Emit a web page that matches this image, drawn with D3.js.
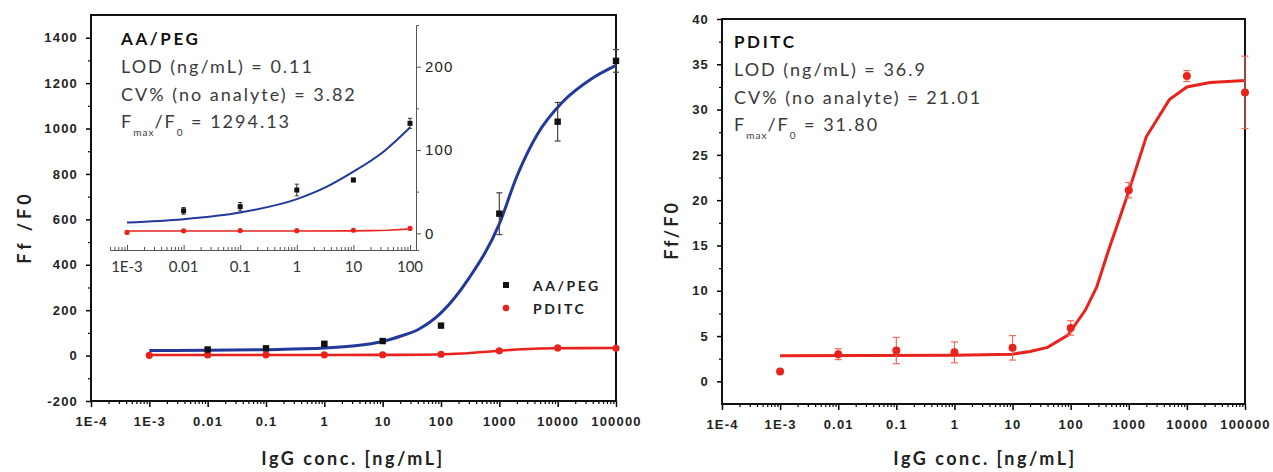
<!DOCTYPE html>
<html>
<head>
<meta charset="utf-8">
<script src="https://cdn.jsdelivr.net/npm/d3@7"></script>
<style>
  body { margin: 0; background: #fff; }
  svg { display: block; font-family: Lato, "Open Sans", sans-serif; }
  .tick text { font-weight: bold; fill: #222; letter-spacing: 1.2px; }
</style>
</head>
<body>
<svg id="chart" width="1273" height="472"></svg>
<script>
// concentrations (ng/mL)
const concAll = [1e-3, 1e-2, 1e-1, 1, 10, 100, 1000, 10000, 100000];
const concAA = [1e-2, 1e-1, 1, 10, 100, 1000, 10000, 100000];

// AA/PEG measured Ff/F0 and error
const aaValues = [27, 32, 52, 64, 132, 625, 1030, 1298];
const aaErrors = [4, 5, 7, 2, 6, 92, 85, 50];

// PDITC measured Ff/F0 and error
const pdValues = [1.1, 3.0, 3.4, 3.2, 3.7, 5.9, 21.1, 33.7, 31.9];
const pdErrors = [0, 0.6, 1.45, 1.15, 1.35, 0.8, 0.85, 0.6, 4.0];

// fitted curves
const aaFitX = [0.001, 0.01, 0.1, 1, 3, 10, 20, 40, 100, 300, 1000, 2000, 4500, 12500, 36000, 100000];
const aaFitY = [22, 23, 26, 33, 42, 62, 85, 114, 188, 340, 580, 790, 975, 1120, 1215, 1278];
const aaInsetFitX = [0.001, 0.01, 0.1, 1, 3.4, 10, 34, 100];
const aaInsetFitY = [13, 17, 25, 41, 56, 74, 98, 127];
const pdFitX = [0.001, 1, 10, 20, 40, 90, 180, 280, 450, 630, 1000, 2000, 5000, 10000, 25000, 100000];
const pdFitY = [2.84, 2.88, 3.0, 3.3, 3.75, 5.1, 7.9, 10.4, 14.5, 17.2, 21.0, 27.0, 31.1, 32.5, 33.0, 33.2];

// tick labels
const decades = [1e-4, 1e-3, 1e-2, 1e-1, 1, 10, 100, 1000, 10000, 100000];
const decadeLabels = ["1E-4", "1E-3", "0.01", "0.1", "1", "10", "100", "1000", "10000", "100000"];
const insetDecades = [1e-3, 1e-2, 1e-1, 1, 10, 100];
const insetLabels = ["1E-3", "0.01", "0.1", "1", "10", "100"];
const leftYTicks = [-200, 0, 200, 400, 600, 800, 1000, 1200, 1400];
const rightYTicks = [0, 5, 10, 15, 20, 25, 30, 35, 40];
const insetYTicks = [0, 100, 200];

const BLUE = "#22399a";
const RED = "#e8231d";

const svg = d3.select("#chart");

function minorsBetween(lo, hi) {
  const out = [];
  for (let e = -5; e <= 5; e++) {
    for (let m = 2; m <= 9; m++) {
      const v = m * Math.pow(10, e);
      if (v > lo * 1.0001 && v < hi * 0.9999) out.push(v);
    }
  }
  return out;
}

function decadeLabel(list, labels) {
  return d => labels[list.findIndex(v => Math.abs(Math.log10(v) - Math.log10(d)) < 1e-6)];
}

function frameAxes(g, x, y, yMajor, yMinor) {
  const [x0, x1] = x.range();
  const [y0, y1] = y.range();

  g.append("g")
    .attr("transform", `translate(0,${y0})`)
    .call(d3.axisBottom(x).tickValues(minorsBetween(x.domain()[0], x.domain()[1])).tickSize(3).tickFormat(""))
    .call(s => s.select(".domain").remove())
    .selectAll("line").attr("stroke-width", 1.2);

  g.append("g")
    .attr("transform", `translate(0,${y0})`)
    .call(d3.axisBottom(x).tickValues(decades).tickSize(6).tickPadding(10)
      .tickFormat(decadeLabel(decades, decadeLabels)))
    .call(s => s.select(".domain").remove())
    .call(s => s.selectAll("line").attr("stroke-width", 1.5))
    .selectAll("text").style("font-size", "13px");

  g.append("g")
    .attr("transform", `translate(${x0},0)`)
    .call(d3.axisLeft(y).tickValues(yMinor).tickSize(3).tickFormat(""))
    .call(s => s.select(".domain").remove())
    .selectAll("line").attr("stroke-width", 1.2);

  g.append("g")
    .attr("transform", `translate(${x0},0)`)
    .call(d3.axisLeft(y).tickValues(yMajor).tickSize(5).tickPadding(8).tickFormat(d => String(d)))
    .call(s => s.select(".domain").remove())
    .call(s => s.selectAll("line").attr("stroke-width", 1.5))
    .selectAll("text").style("font-size", "13px");

  g.append("rect")
    .attr("x", x0).attr("y", y1)
    .attr("width", x1 - x0).attr("height", y0 - y1)
    .attr("fill", "none").attr("stroke", "#111").attr("stroke-width", 2);
}

function errorBars(g, xs, ys, errs, x, y, color, cap, width) {
  xs.forEach((c, i) => {
    if (!errs[i]) return;
    const cx = x(c), top = y(ys[i] + errs[i]), bot = y(ys[i] - errs[i]);
    g.append("line").attr("x1", cx).attr("x2", cx).attr("y1", top).attr("y2", bot)
      .attr("stroke", color).attr("stroke-width", width);
    [top, bot].forEach(yy => g.append("line")
      .attr("x1", cx - cap).attr("x2", cx + cap).attr("y1", yy).attr("y2", yy)
      .attr("stroke", color).attr("stroke-width", width));
  });
}

function note(g, x, y, title, lod, cv, ratio) {
  const t = g.append("g").attr("fill", "#3a3a3a").style("font-size", "18px").style("letter-spacing", "2px");
  t.append("text").attr("x", x).attr("y", y).attr("font-weight", "bold").attr("fill", "#111")
    .style("font-size", "17px").style("letter-spacing", "2.6px").text(title);
  t.append("text").attr("x", x).attr("y", y + 28).text(`LOD (ng/mL) = ${lod}`);
  t.append("text").attr("x", x).attr("y", y + 56).text(`CV% (no analyte) = ${cv}`);
  const f = t.append("text").attr("x", x).attr("y", y + 83);
  f.append("tspan").text("F");
  f.append("tspan").attr("dy", 8).style("font-size", "10px").style("letter-spacing", "1px").text("max");
  f.append("tspan").attr("dy", -8).text("/F");
  f.append("tspan").attr("dy", 8).style("font-size", "10px").text("0");
  f.append("tspan").attr("dy", -8).text(` = ${ratio}`);
}

// ---------- left panel ----------
const xL = d3.scaleLog().domain([1e-4, 1e5]).range([91, 616]);
const yL = d3.scaleLinear().domain([-200, 1500]).range([401, 15]);
const gL = svg.append("g");
frameAxes(gL, xL, yL, leftYTicks, d3.range(-100, 1500, 200));

const line = (x, y) => d3.line().x(d => x(d[0])).y(d => y(d[1]));

// inset
const xI0 = d3.scaleLog().domain([1e-3, 100]).range([127, 410]);
const xI = d3.scaleLog().domain([xI0.invert(110), xI0.invert(416)]).range([110, 416]);
const yI = d3.scaleLinear().domain([-20, 250]).range([250, 25]);
const gI = gL.append("g");

gI.append("g").attr("transform", "translate(0,250)")
  .call(d3.axisTop(xI).tickValues(minorsBetween(xI.domain()[0], xI.domain()[1])).tickSize(3).tickFormat(""))
  .call(s => s.select(".domain").attr("stroke", "#555"))
  .selectAll("line").attr("stroke", "#555");
gI.append("g").attr("transform", "translate(0,250)")
  .call(d3.axisTop(xI).tickValues(insetDecades).tickSize(5).tickFormat(""))
  .call(s => s.select(".domain").remove())
  .selectAll("line").attr("stroke", "#555");
gI.selectAll("text.ixl").data(insetDecades).join("text")
  .attr("x", d => xI(d)).attr("y", 272).attr("text-anchor", "middle")
  .attr("fill", "#333").style("font-size", "15px")
  .text(decadeLabel(insetDecades, insetLabels));

gI.append("g").attr("transform", "translate(416,0)")
  .call(d3.axisRight(yI).tickValues([50, 150]).tickSize(3).tickFormat(""))
  .call(s => s.select(".domain").attr("stroke", "#555"))
  .selectAll("line").attr("stroke", "#555");
gI.append("g").attr("transform", "translate(416,0)")
  .call(d3.axisRight(yI).tickValues(insetYTicks).tickSize(5).tickPadding(4))
  .call(s => s.select(".domain").remove())
  .call(s => s.selectAll("line").attr("stroke", "#555"))
  .selectAll("text").style("font-size", "15px").style("font-weight", "normal").attr("fill", "#333");

gI.append("path")
  .datum(d3.zip(aaInsetFitX, aaInsetFitY))
  .attr("d", line(xI, yI).curve(d3.curveMonotoneX))
  .attr("fill", "none").attr("stroke", BLUE).attr("stroke-width", 2);
const pdInset = d3.zip(pdFitX, pdFitY).filter(d => d[0] <= 100);
gI.append("path")
  .datum(pdInset)
  .attr("d", line(xI, yI))
  .attr("fill", "none").attr("stroke", RED).attr("stroke-width", 1.6);
const aaIn = concAA.map((c, i) => [c, aaValues[i], aaErrors[i]]).filter(d => d[0] <= 100);
errorBars(gI, aaIn.map(d => d[0]), aaIn.map(d => d[1]), aaIn.map(d => d[2]), xI, yI, "#333", 2, 1);
gI.selectAll("rect.sq").data(aaIn).join("rect")
  .attr("x", d => xI(d[0]) - 2.5).attr("y", d => yI(d[1]) - 2.5)
  .attr("width", 5).attr("height", 5).attr("fill", "#111");
const pdIn = concAll.map((c, i) => [c, pdValues[i]]).filter(d => d[0] <= 100);
gI.selectAll("circle.dot").data(pdIn).join("circle")
  .attr("cx", d => xI(d[0])).attr("cy", d => yI(d[1])).attr("r", 2.6).attr("fill", RED);

note(gL, 121, 45, "AA/PEG", "0.11", "3.82", "1294.13");

// main curves
gL.append("path")
  .datum(d3.zip(pdFitX, pdFitY))
  .attr("d", line(xL, yL))
  .attr("fill", "none").attr("stroke", RED).attr("stroke-width", 2.6);
gL.selectAll("circle.pd").data(concAll).join("circle")
  .attr("cx", d => xL(d)).attr("cy", (d, i) => yL(pdValues[i])).attr("r", 3.6).attr("fill", RED);

gL.append("path")
  .datum(d3.zip(aaFitX, aaFitY))
  .attr("d", line(xL, yL).curve(d3.curveMonotoneX))
  .attr("fill", "none").attr("stroke", BLUE).attr("stroke-width", 3);
errorBars(gL, concAA, aaValues, aaErrors, xL, yL, "#444", 3, 1.2);
gL.selectAll("rect.aa").data(concAA).join("rect")
  .attr("x", d => xL(d) - 3.2).attr("y", (d, i) => yL(aaValues[i]) - 3.2)
  .attr("width", 6.4).attr("height", 6.4).attr("fill", "#111");

// legend
const leg = gL.append("g").style("font-size", "14px").attr("font-weight", "bold")
  .attr("fill", "#222").style("letter-spacing", "2.5px");
leg.append("rect").attr("x", 503).attr("y", 282).attr("width", 6).attr("height", 6).attr("fill", "#111");
leg.append("text").attr("x", 533).attr("y", 291).text("AA/PEG");
leg.append("circle").attr("cx", 506).attr("cy", 308).attr("r", 3.3).attr("fill", RED);
leg.append("text").attr("x", 533).attr("y", 314).text("PDITC");

// axis titles
gL.append("text").attr("transform", "translate(31,227) rotate(-90)")
  .attr("text-anchor", "middle").attr("font-weight", "bold").attr("fill", "#222")
  .style("font-size", "18px").style("letter-spacing", "4px").text("Ff /F0");
gL.append("text").attr("x", 353).attr("y", 465)
  .attr("text-anchor", "middle").attr("font-weight", "bold").attr("fill", "#222")
  .style("font-size", "18px").style("letter-spacing", "2.5px").text("IgG conc. [ng/mL]");

// ---------- right panel ----------
const xR = d3.scaleLog().domain([1e-4, 1e5]).range([722, 1245]);
const yR = d3.scaleLinear().domain([-2.5, 40]).range([404, 19]);
const gR = svg.append("g");
frameAxes(gR, xR, yR, rightYTicks, d3.range(2.5, 40, 5));

gR.append("path")
  .datum(d3.zip(pdFitX, pdFitY))
  .attr("d", line(xR, yR))
  .attr("fill", "none").attr("stroke", RED).attr("stroke-width", 3);
errorBars(gR, concAll, pdValues, pdErrors, xR, yR, "#ee6a5a", 3.5, 1.2);
gR.selectAll("circle.pd").data(concAll).join("circle")
  .attr("cx", d => xR(d)).attr("cy", (d, i) => yR(pdValues[i])).attr("r", 4).attr("fill", RED);

note(gR, 734, 48, "PDITC", "36.9", "21.01", "31.80");

gR.append("text").attr("transform", "translate(678,230) rotate(-90)")
  .attr("text-anchor", "middle").attr("font-weight", "bold").attr("fill", "#222")
  .style("font-size", "18px").style("letter-spacing", "3px").text("Ff/F0");
gR.append("text").attr("x", 985).attr("y", 465)
  .attr("text-anchor", "middle").attr("font-weight", "bold").attr("fill", "#222")
  .style("font-size", "18px").style("letter-spacing", "2.5px").text("IgG conc. [ng/mL]");
</script>
</body>
</html>
